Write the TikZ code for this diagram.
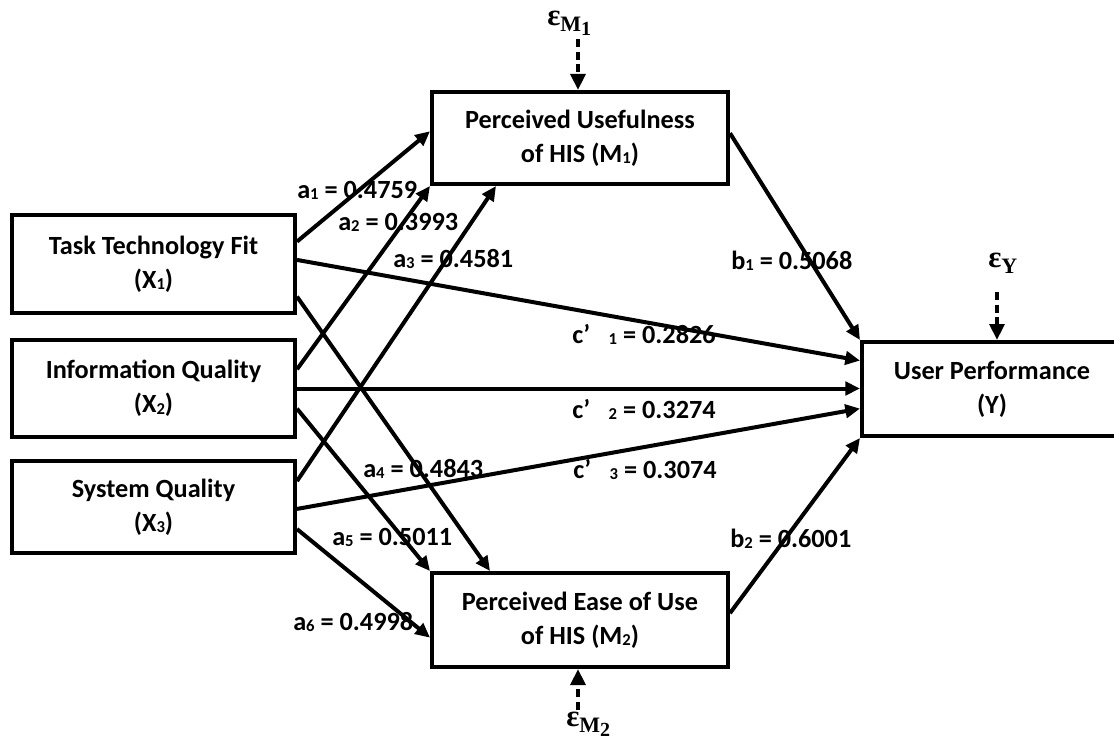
\documentclass[tikz,border=0pt]{standalone}
\usepackage{fontspec}
\setmainfont{Carlito}
\newfontfamily\epsfont{Liberation Serif}
\usetikzlibrary{arrows.meta,calc}
\newcommand{\sd}[1]{\raisebox{-1.2pt}{\fontsize{12.5}{12.5}\selectfont #1}}
\newcommand{\epsl}[2]{{\epsfont\bfseries\fontsize{23}{23}\selectfont ε}\raisebox{-4.5pt}{\epsfont\bfseries\fontsize{16.5}{16.5}\selectfont #1\ifx\relax#2\relax\else\raisebox{-3pt}{\fontsize{15}{15}\selectfont #2}\fi}}
\begin{document}
\begin{tikzpicture}[x=0.75pt,y=-0.75pt,
  box/.style={draw, line width=3pt, inner sep=0pt, align=center,
    font=\fontsize{19.7}{25.5}\selectfont\bfseries},
  lab/.style={inner sep=0pt, anchor=base west, font=\fontsize{19.7}{24}\selectfont\bfseries},
  eps/.style={inner sep=0pt, anchor=base west},
  arr/.style={line width=3pt, -{Triangle[length=11pt,width=10pt]}},
  darr/.style={line width=3pt, dash pattern=on 6pt off 3.5pt, -{Triangle[length=12pt,width=11pt]}}]
\useasboundingbox (0,0) rectangle (1114,742);
\clip (0,0) rectangle (1114,742);
\fill[white] (0,0) rectangle (1114,742);

% boxes
\node[box, minimum width=212.25pt, minimum height=73.5pt] (X1) at (153.5,264) {Task Technology Fit\\(X\sd{1})};
\node[box, minimum width=212.25pt, minimum height=72.75pt] (X2) at (153.5,388.5) {Information Quality\\(X\sd{2})};
\node[box, minimum width=212.25pt, minimum height=69pt] (X3) at (153.5,507) {System Quality\\(X\sd{3})};
\node[box, minimum width=222pt, minimum height=69pt] (M1) at (580,138) {Perceived Usefulness\\of HIS (M\sd{1})};
\node[box, minimum width=222pt, minimum height=70.5pt] (M2) at (580,620) {Perceived Ease of Use\\of HIS (M\sd{2})};
\node[box, minimum width=195pt, minimum height=70.5pt] (Y) at (992,389) {User Performance\\(Y)};

% labels
\node[lab] (la1) at (297,198) {a\sd{1} = 0.4759};
\node[lab] (la2) at (338,230) {a\sd{2} = 0.3993};
\node[lab] (la3) at (393,267) {a\sd{3} = 0.4581};
\node[lab] (la4) at (363,477) {a\sd{4} = 0.4843};
\node[lab] (la5) at (332,545) {a\sd{5} = 0.5011};
\node[lab] (la6) at (293,630) {a\sd{6} = 0.4998};
\node[lab] (lb1) at (731,269) {b\sd{1} = 0.5068};
\node[lab] (lb2) at (730,547) {b\sd{2} = 0.6001};
\node[lab] (lc1) at (572,343) {c’\hspace{14pt}\sd{1} = 0.2826};
\node[lab] (lc2) at (572,418) {c’\hspace{14pt}\sd{2} = 0.3274};
\node[lab] (lc3) at (573,478) {c’\hspace{14pt}\sd{3} = 0.3074};

% error terms
\node[eps] (eM1) at (547,26) {\epsl{M}{1}};
\node[eps] (eM2) at (566,726) {\epsl{M}{2}};
\node[eps] (eY) at (988,267) {\epsl{Y}{}};
\coordinate (dM1) at (578,39);
\coordinate (dM2) at (578,710);
\coordinate (dY) at (997,292);
\draw[darr] (dM1) -- (dM1 |- M1.north);
\draw[darr] (dM2) -- (dM2 |- M2.south);
\draw[darr] (dY) -- (dY |- Y.north);

% paths to M1
\draw[arr] ($(X1.north east)!0.28!(X1.south east)$) -- ($(M1.north west)!0.43!(M1.south west)$);
\draw[arr] ($(X2.north east)!0.31!(X2.south east)$) -- (M1.south west);
\draw[arr] ($(X3.north east)!0.23!(X3.south east)$) -- ($(M1.south west)!0.22!(M1.south east)$);
% paths to M2
\draw[arr] ($(X1.north east)!0.82!(X1.south east)$) -- ($(M2.north west)!0.2!(M2.north east)$);
\draw[arr] ($(X2.north east)!0.70!(X2.south east)$) -- (M2.north west);
\draw[arr] ($(X3.north east)!0.73!(X3.south east)$) -- ($(M2.north west)!0.68!(M2.south west)$);
% direct paths
\draw[arr] ($(X1.north east)!0.46!(X1.south east)$) -- ($(Y.north west)!0.21!(Y.south west)$);
\draw[arr] (X2.east) -- (X2.east -| Y.west);
\draw[arr] ($(X3.north east)!0.52!(X3.south east)$) -- ($(Y.north west)!0.70!(Y.south west)$);
% b paths
\draw[arr] ($(M1.north east)!0.45!(M1.south east)$) -- (Y.north west);
\draw[arr] ($(M2.north east)!0.43!(M2.south east)$) -- (Y.south west);
\end{tikzpicture}
\end{document}
